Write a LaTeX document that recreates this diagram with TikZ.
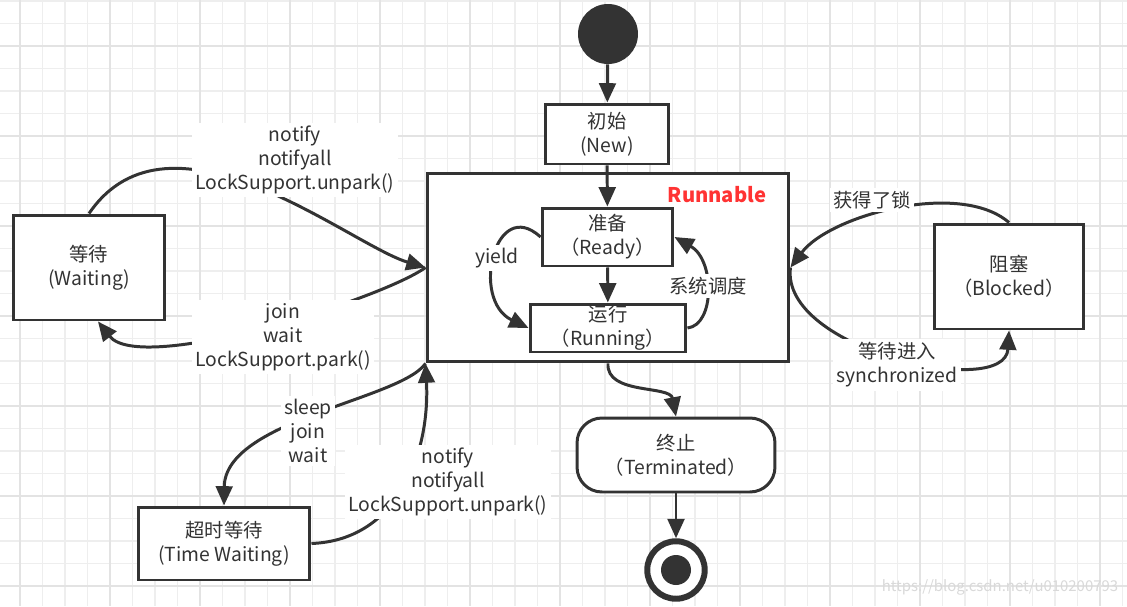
\documentclass[tikz,border=0pt]{standalone}
\usepackage{fontspec}
\setmainfont{Noto Sans CJK SC}
\usepackage{tikz}
\usetikzlibrary{arrows.meta}
\usetikzlibrary{positioning}
\definecolor{ink}{HTML}{333333}
\definecolor{runred}{HTML}{FF3333}
\definecolor{gridthin}{HTML}{EEEEEE}
\definecolor{gridthick}{HTML}{E3E3E3}

\begin{document}
\begin{tikzpicture}[
  x=0.02cm, y=-0.02cm,
  font=\fontsize{11pt}{13.6pt}\selectfont,
  every node/.style={align=center, text=ink},
  statebox/.style={draw=ink, line width=1.7pt, fill=white, inner sep=0pt},
  termbox/.style={statebox, rounded corners=0.5cm},
  startdot/.style={circle, fill=ink, minimum size=1.2cm, inner sep=0pt},
  enddot/.style={circle, draw=ink, line width=3.4pt, fill=white, minimum size=1.15cm, inner sep=0pt},
  lbl/.style={fill=white, inner sep=2pt},
  to/.style={-{Triangle[length=11pt,width=9.5pt]}, draw=ink, line width=1.7pt},
  gridline/.style={draw=gridthin, line width=0.6pt},
  gridmajor/.style={draw=gridthick, line width=0.8pt}]

  % Background grid
  \useasboundingbox (0,0) rectangle (1127,606);
  \fill[white] (0,0) rectangle (1127,606);
  \foreach \x in {-2.5,20,...,1130} \draw[gridline] (\x,0) -- (\x,606);
  \foreach \y in {1,23.5,...,610} \draw[gridline] (0,\y) -- (1127,\y);
  \foreach \x in {20,110,...,1130} \draw[gridmajor] (\x,0) -- (\x,606);
  \foreach \y in {46,136,...,610} \draw[gridmajor] (0,\y) -- (1127,\y);

  % States
  \node[startdot] (start) at (608,34) {};
  \node[statebox, minimum width=2.48cm, minimum height=1.2cm] (new) at (607,134) {初始\\(New)};
  \node[statebox, minimum width=7.24cm, minimum height=3.78cm] (runnable) at (608,267.5) {};
  \node[font=\fontsize{11.5pt}{14pt}\selectfont\bfseries, text=runred] (runlabel) at (717,195) {Runnable};
  \node[statebox, minimum width=2.62cm, minimum height=1.16cm] (ready) at (607.5,237) {准备\\（Ready）};
  \node[statebox, minimum width=3.12cm, minimum height=0.96cm] (running) at (608,328) {运行\\（Running）};
  \node[termbox, minimum width=3.96cm, minimum height=1.48cm] (term) at (676,455) {终止\\（Terminated）};
  \node[enddot] (final) at (676,570) {};
  \node[circle, fill=ink, minimum size=0.6cm, inner sep=0pt] (finaldot) at (final) {};
  \node[statebox, minimum width=3.04cm, minimum height=2.1cm] (waiting) at (89,267.5) {等待\\(Waiting)};
  \node[statebox, minimum width=3cm, minimum height=2.1cm] (blocked) at (1009,276.5) {阻塞\\（Blocked）};
  \node[statebox, minimum width=3.44cm, minimum height=1.46cm] (timew) at (224,543.5) {超时等待\\(Time Waiting)};

  % Transitions
  \draw[to] (start) -- (new);
  \draw[to] (new) -- (ready);
  \draw[to] (ready) -- (running);
  \draw[to] (runnable.south) .. controls (606,395) and (670,385) .. (term.north);
  \draw[to] (term) -- (final);
  \draw[to] (ready.west) .. controls (495,195) and (470,300) .. (running.west);
  \draw[to] (running.east) .. controls (715,325) and (715,260) .. (ready.east);
  \draw[to] (waiting.north) .. controls (170,95) and (350,245) .. (runnable.west);
  \draw[to] (runnable.west) .. controls (380,300) and (140,375) .. ([xshift=0.18cm]waiting.south);
  \draw[to] (runnable.south west) .. controls (400,400) and (225,420) .. (timew.north);
  \draw[to] (timew.east) .. controls (400,540) and (430,450) .. (runnable.south west);
  \draw[to] (blocked.north) .. controls (960,180) and (830,215) .. (runnable.east);
  \draw[to] (runnable.east) .. controls (780,350) and (1005,400) .. (blocked.south);

  % Labels
  \node[lbl] (unpark1) at (295,160) {notify\\notifyall\\LockSupport.unpark()};
  \node[lbl] (park) at (283,337) {join\\wait\\LockSupport.park()};
  \node[lbl] (sleep) at (308,431) {sleep\\join\\wait};
  \node[lbl] (unpark2) at (448,482) {notify\\notifyall\\LockSupport.unpark()};
  \node[lbl] (yield) at (497,258) {yield};
  \node[lbl] (sched) at (708,286) {系统调度};
  \node[lbl] (lock) at (872,200) {获得了锁};
  \node[lbl] (sync) at (897,365) {等待进入\\synchronized};
  \node[text=gray!30, font=\fontsize{8.5pt}{10pt}\selectfont] (mark) at (1000,587) {https://blog.csdn.net/u010200793};
\end{tikzpicture}
\end{document}
